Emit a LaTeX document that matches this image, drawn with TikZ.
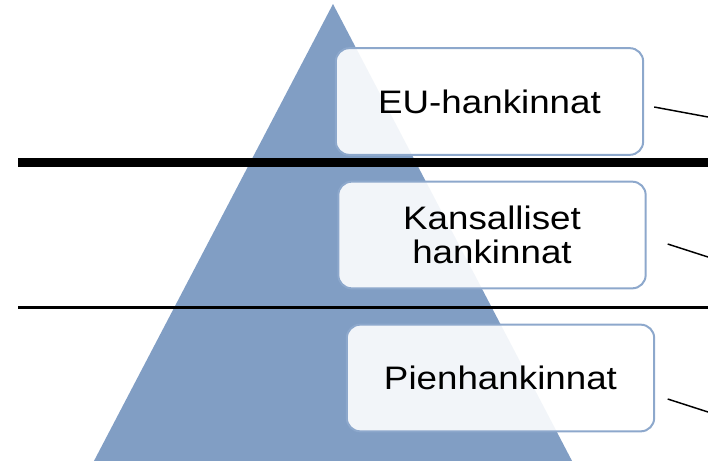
\documentclass[tikz,border=0pt]{standalone}
\usepackage{fontspec}
\setmainfont{Liberation Sans}
\newfontfamily\levelfont[FakeStretch=1.13]{Liberation Sans}
\definecolor{pyramid}{RGB}{129,158,196}
\definecolor{boxline}{RGB}{141,168,204}
\begin{document}
\begin{tikzpicture}[
    x=0.75pt, y=-0.75pt,
    level/.style={rounded corners=10pt, draw=boxline, line width=1.5pt, fill=white, fill opacity=0.9, text opacity=1,
        minimum width=230.5pt, minimum height=80pt, inner sep=0pt, align=center, font=\levelfont\fontsize{24.4}{26}\selectfont},
    thickrule/.style={black, line width=6.75pt},
    thinrule/.style={black, line width=1.8pt},
    leader/.style={black, line width=1.1pt}
]
    \useasboundingbox (0,0) rectangle (708,461);
    \clip (0,0) rectangle (708,461);

    % Pyramid
    \fill[pyramid] (333,4) -- (582,480) -- (84,480) -- cycle;

    % Level rules
    \coordinate (top-l) at (18,162);
    \coordinate (top-r) at (708,162);
    \coordinate (low-l) at (18,307.5);
    \coordinate (low-r) at (708,307.5);
    \draw[thickrule] (top-l) -- (top-r);
    \draw[thinrule] (low-l) -- (low-r);

    % Levels
    \node[level] (eu) at (489.5,101.5) {EU-hankinnat};
    \node[level] (kans) at (492,235) {Kansalliset\\hankinnat};
    \node[level] (pien) at (500.5,378) {Pienhankinnat};

    % Leaders to the right
    \coordinate (eu-end) at (708,117);
    \coordinate (kans-end) at (708,257);
    \coordinate (pien-end) at (708,412);
    \draw[leader] ([shift={(10,5.5)}]eu.east) -- (eu-end);
    \draw[leader] ([shift={(21,9)}]kans.east) -- (kans-end);
    \draw[leader] ([shift={(12.5,21)}]pien.east) -- (pien-end);
\end{tikzpicture}
\end{document}
